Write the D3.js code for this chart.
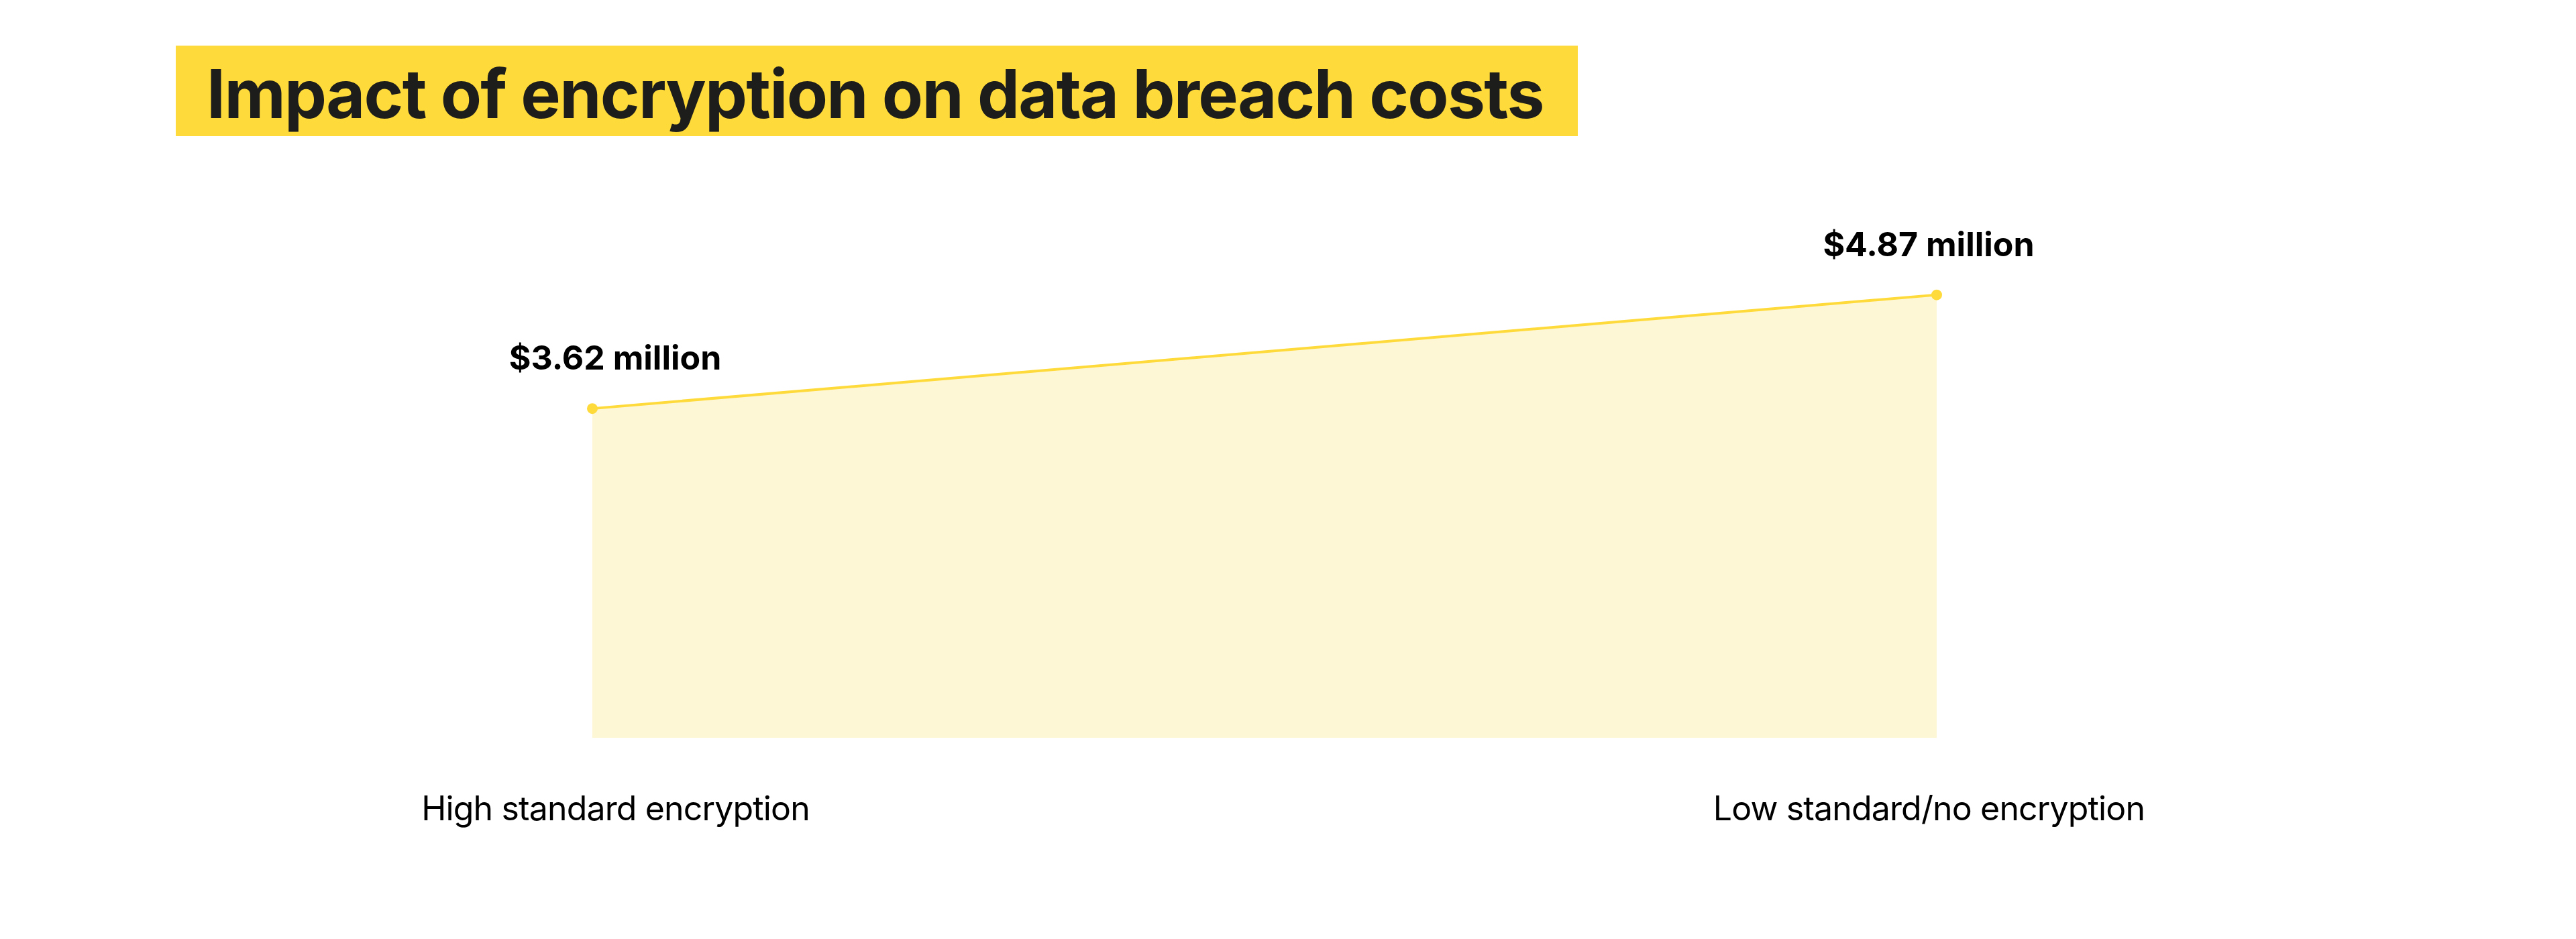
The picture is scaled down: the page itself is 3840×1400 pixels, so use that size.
<!DOCTYPE html>
<html>
<head>
<meta charset="utf-8">
<script src="https://cdn.jsdelivr.net/npm/d3@7"></script>
<style>
  body { margin: 0; background: #fff; }
  svg { display: block; }
</style>
</head>
<body>
<div id="chart"></div>
<script>
// data
var categories = ["High standard encryption", "Low standard/no encryption"];
var costs = [3.62, 4.87];
var costLabels = ["$3.62 million", "$4.87 million"];
var title = "Impact of encryption on data breach costs";

var width = 3840, height = 1400;
var yellow = "#FFDA3B", paleYellow = "#FEF7D6", ink = "#1D1D1B";

var svg = d3.select("#chart").append("svg")
  .attr("width", width)
  .attr("height", height);

// title block
svg.append("rect")
  .attr("x", 262).attr("y", 68)
  .attr("width", 2090).attr("height", 135)
  .attr("fill", yellow);

svg.append("text")
  .attr("x", 308).attr("y", 176)
  .attr("font-family", "Inter, 'Liberation Sans', sans-serif")
  .attr("font-weight", 700)
  .attr("font-size", 100)
  .attr("letter-spacing", -1.7)
  .attr("fill", ink)
  .text(title);

// scales
var x = d3.scalePoint().domain(categories).range([883, 2887]);
var labelX = d3.scalePoint().domain(categories).range([917, 2875]);
var y = d3.scaleLinear().domain([0, 5]).range([1100, 422]);

var data = categories.map(function (c, i) {
  return { cat: c, v: costs[i], label: costLabels[i] };
});

// shaded area under the line
var area = d3.area()
  .x(function (d) { return x(d.cat); })
  .y0(y(0))
  .y1(function (d) { return y(d.v); });

svg.append("path")
  .datum(data)
  .attr("d", area)
  .attr("fill", paleYellow);

var line = d3.line()
  .x(function (d) { return x(d.cat); })
  .y(function (d) { return y(d.v); });

svg.append("path")
  .datum(data)
  .attr("d", line)
  .attr("fill", "none")
  .attr("stroke", yellow)
  .attr("stroke-width", 4);

svg.selectAll("circle.pt").data(data)
  .enter().append("circle")
  .attr("class", "pt")
  .attr("cx", function (d) { return x(d.cat); })
  .attr("cy", function (d) { return y(d.v); })
  .attr("r", 8)
  .attr("fill", yellow);

// value labels above points
svg.selectAll("text.val").data(data)
  .enter().append("text")
  .attr("class", "val")
  .attr("x", function (d) { return labelX(d.cat); })
  .attr("y", function (d) { return y(d.v) - 58; })
  .attr("text-anchor", "middle")
  .attr("font-family", "Inter, 'Liberation Sans', sans-serif")
  .attr("font-weight", 700)
  .attr("font-size", 50)
  .attr("fill", "#000")
  .text(function (d) { return d.label; });

// category axis, no line or ticks
var xAxis = svg.append("g")
  .attr("transform", "translate(0,1223)")
  .call(d3.axisBottom(labelX).tickSize(0).tickPadding(0));
xAxis.select(".domain").remove();
xAxis.selectAll("text")
  .attr("dy", 0)
  .attr("font-family", "Inter, 'Liberation Sans', sans-serif")
  .attr("font-size", 50)
  .attr("letter-spacing", -0.85)
  .attr("fill", "#000");
</script>
</body>
</html>
